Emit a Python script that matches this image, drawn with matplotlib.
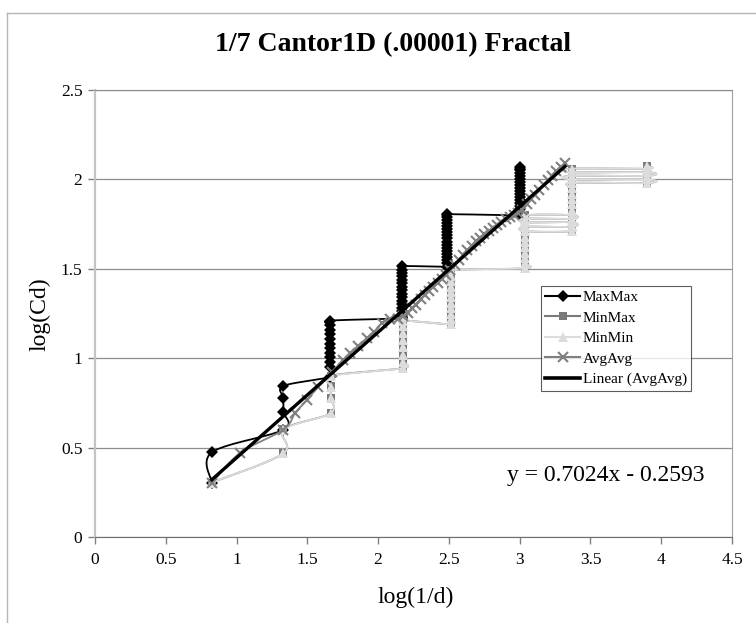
import numpy as np
import matplotlib.pyplot as plt
from matplotlib.lines import Line2D
from matplotlib.ticker import FuncFormatter

plt.rcParams['font.family'] = ['Liberation Serif', 'DejaVu Serif']

# ---------------------------------------------------------------
# Data: log(1/d) vs log(Cd)
# ---------------------------------------------------------------
maxmax_x = [0.825] * 2 + [1.331] * 4 + [1.661] * 12 + [2.167] * 16 + [2.49] * 18 + [3.0] * 18
maxmax_y = [0.304, 0.474,
            0.60, 0.70, 0.776, 0.845,
            0.897, 0.953, 0.979, 1.005, 1.031, 1.056, 1.082, 1.108, 1.134, 1.159, 1.185, 1.21,
            1.223, 1.242, 1.262, 1.281, 1.301, 1.32, 1.34, 1.359, 1.379, 1.398, 1.418, 1.437,
            1.457, 1.476, 1.496, 1.515,
            1.512, 1.53, 1.547, 1.565, 1.582, 1.6, 1.617, 1.635, 1.652, 1.67, 1.687, 1.705,
            1.722, 1.74, 1.757, 1.775, 1.79, 1.805,
            1.80, 1.817, 1.834, 1.85, 1.867, 1.884, 1.9, 1.917, 1.934, 1.95, 1.967, 1.984,
            2.0, 2.017, 2.034, 2.05, 2.06, 2.07]

minmax_x = ([0.825] + [1.331] * 2 + [1.665] * 4 + [2.175] * 8 + [2.515] * 11 + [3.039] * 11
            + [3.369, 3.369, 3.039, 3.039, 3.369, 3.369, 3.039, 3.039, 3.369]
            + [3.369] * 9
            + [3.90, 3.90, 3.369, 3.369, 3.90, 3.90, 3.369, 3.369, 3.90, 3.90])
minmax_y = [0.304,
            0.468, 0.602,
            0.692, 0.778, 0.843, 0.902,
            0.944, 0.98, 1.02, 1.06, 1.10, 1.14, 1.18, 1.21,
            1.19, 1.22, 1.25, 1.28, 1.31, 1.34, 1.37, 1.40, 1.43, 1.46, 1.493,
            1.503, 1.53, 1.56, 1.59, 1.62, 1.65, 1.68, 1.71, 1.74, 1.77, 1.80,
            1.80, 1.78, 1.78, 1.76, 1.76, 1.735, 1.735, 1.71, 1.71,
            1.74, 1.77, 1.80, 1.83, 1.86, 1.89, 1.92, 1.95, 1.98,
            1.98, 2.00, 2.00, 2.02, 2.02, 2.04, 2.04, 2.06, 2.06, 2.075]

minmin_x = ([0.825] + [1.331] * 2 + [1.665] * 4 + [2.175] * 8 + [2.515] * 11 + [3.039] * 11
            + [3.369, 3.369, 3.039, 3.039, 3.369, 3.369, 3.039, 3.039, 3.369]
            + [3.369] * 9
            + [3.90, 3.90, 3.369, 3.369, 3.90, 3.90, 3.369, 3.369, 3.90, 3.90])
minmin_y = [0.304,
            0.468, 0.60,
            0.692, 0.776, 0.841, 0.90,
            0.944, 0.98, 1.02, 1.06, 1.10, 1.14, 1.18, 1.21,
            1.19, 1.22, 1.25, 1.28, 1.31, 1.34, 1.37, 1.40, 1.43, 1.46, 1.493,
            1.503, 1.53, 1.56, 1.59, 1.62, 1.65, 1.68, 1.71, 1.74, 1.77, 1.80,
            1.80, 1.78, 1.78, 1.76, 1.76, 1.735, 1.735, 1.71, 1.71,
            1.74, 1.77, 1.80, 1.83, 1.86, 1.89, 1.92, 1.95, 1.98,
            1.98, 2.00, 2.00, 2.02, 2.02, 2.04, 2.04, 2.06, 2.06, 2.075]

avg_x = [0.825, 1.025, 1.331, 1.413, 1.496, 1.578, 1.673, 1.755, 1.802, 1.861,
         1.920, 1.972, 2.026, 2.085, 2.14, 2.179, 2.21, 2.24, 2.27, 2.30,
         2.33, 2.36, 2.39, 2.42, 2.45, 2.48, 2.51, 2.54, 2.57, 2.60,
         2.63, 2.66, 2.69, 2.72, 2.75, 2.78, 2.81, 2.84, 2.87, 2.90,
         2.93, 2.96, 2.99, 3.02, 3.05, 3.08, 3.11, 3.14, 3.17, 3.20,
         3.23, 3.26, 3.29, 3.32]
avg_y = [0.30, 0.47, 0.60, 0.692, 0.766, 0.841, 0.925, 0.99, 1.027, 1.068,
         1.111, 1.148, 1.195, 1.217, 1.222, 1.235, 1.255, 1.28, 1.30, 1.33,
         1.352, 1.375, 1.40, 1.42, 1.445, 1.468, 1.493, 1.52, 1.548, 1.575,
         1.603, 1.63, 1.655, 1.675, 1.692, 1.71, 1.727, 1.745, 1.76, 1.776,
         1.79, 1.80, 1.812, 1.83, 1.86, 1.89, 1.915, 1.94, 1.97, 1.995,
         2.02, 2.045, 2.07, 2.09]

# linear trendline of AvgAvg as printed on the chart
trend_slope = 0.7024
trend_intercept = -0.2593

x_ticks = [0, 0.5, 1, 1.5, 2, 2.5, 3, 3.5, 4, 4.5]
y_ticks = [0, 0.5, 1, 1.5, 2, 2.5]


def smooth(xs, ys, n=10):
    # Excel-style smoothed line: Catmull-Rom converted to cubic Bezier
    p = np.column_stack([xs, ys]).astype(float)
    pts = np.vstack([p[0], p, p[-1]])
    t = np.linspace(0, 1, n)[1:, None]
    out = [p[0]]
    for i in range(1, len(pts) - 2):
        p0, p1, p2, p3 = pts[i - 1], pts[i], pts[i + 1], pts[i + 2]
        c1 = p1 + (p2 - p0) / 6
        c2 = p2 - (p3 - p1) / 6
        seg = (1 - t) ** 3 * p1 + 3 * (1 - t) ** 2 * t * c1 + 3 * (1 - t) * t ** 2 * c2 + t ** 3 * p2
        out.extend(seg)
    out = np.array(out)
    return out[:, 0], out[:, 1]


fig = plt.figure(figsize=(7.56, 6.23), dpi=100)
ax = fig.add_axes([95 / 756, 86 / 623, 637 / 756, 447 / 623])

series = [
    ('MaxMax', maxmax_x, maxmax_y, '#000000', 'D', 6.5, 1.3),
    ('MinMax', minmax_x, minmax_y, '#7a7a7a', 's', 6.0, 1.3),
    ('MinMin', minmin_x, minmin_y, '#dcdcdc', '^', 7.5, 1.3),
    ('AvgAvg', avg_x, avg_y, '#808080', 'x', 6.5, 1.3),
]

handles = []
for z, (name, xs, ys, col, mk, ms, lw) in enumerate(series):
    sx, sy = smooth(xs, ys)
    ax.plot(sx, sy, color=col, lw=lw, zorder=3 + z * 2)
    mew = 1.5 if mk == 'x' else 0
    ax.plot(xs, ys, ls='none', marker=mk, ms=ms, mew=mew, color=col, zorder=4 + z * 2)
    handles.append(Line2D([], [], color=col, lw=1.5, marker=mk, ms=ms, mew=mew, label=name))

# trendline
tx = np.array([min(avg_x), max(avg_x)])
ax.plot(tx, trend_slope * tx + trend_intercept, color='black', lw=2.4, zorder=20)
handles.append(Line2D([], [], color='black', lw=2.6, label='Linear (AvgAvg)'))

ax.set_xlim(0, 4.5)
ax.set_ylim(0, 2.5)
ax.set_xticks(x_ticks)
ax.set_yticks(y_ticks)
fmt = FuncFormatter(lambda v, _: f'{v:g}')
ax.xaxis.set_major_formatter(fmt)
ax.yaxis.set_major_formatter(fmt)
ax.tick_params(direction='out', length=5, width=1, color='#808080', labelsize=12.5, pad=4)
ax.tick_params(axis='x', pad=6)

ax.yaxis.grid(True, color='#8c8c8c', lw=0.9)
ax.set_axisbelow(True)
ax.spines['left'].set_color('#c4c4c4')
ax.spines['left'].set_linewidth(1.6)
ax.spines['bottom'].set_color('#6e6e6e')
ax.spines['right'].set_color('#a0a0a0')
ax.spines['top'].set_color('#8c8c8c')

leg = ax.legend(handles=handles, loc='upper left', bbox_to_anchor=((540.7 - 95) / 637, (537 - 285.7) / 447),
                borderaxespad=0, fontsize=11, frameon=True, fancybox=False, handlelength=2.3,
                handletextpad=0.15, labelspacing=0.45, borderpad=0.3)
leg.get_frame().set_edgecolor('#333333')
leg.get_frame().set_linewidth(0.8)
leg.set_zorder(30)

ax.text((606 - 95) / 637, (537 - 476) / 447, 'y = 0.7024x - 0.2593', transform=ax.transAxes,
        ha='center', va='center', fontsize=17)

fig.text(393 / 756, 1 - 45 / 623, '1/7 Cantor1D (.00001) Fractal', ha='center', va='center',
         fontsize=20, fontweight='bold')
fig.text(40 / 756, 1 - 314 / 623, 'log(Cd)', rotation=90, ha='center', va='center', fontsize=17)
fig.text(416 / 756, 1 - 597 / 623, 'log(1/d)', ha='center', va='center', fontsize=17)

# outer chart-area border
fig.add_artist(Line2D([7 / 756, 7 / 756], [0, 1 - 13 / 623], transform=fig.transFigure, color='#b5b5b5', lw=1))
fig.add_artist(Line2D([7 / 756, 1], [1 - 13 / 623, 1 - 13 / 623], transform=fig.transFigure, color='#b5b5b5', lw=1))

fig.savefig('out.png', dpi=100)
